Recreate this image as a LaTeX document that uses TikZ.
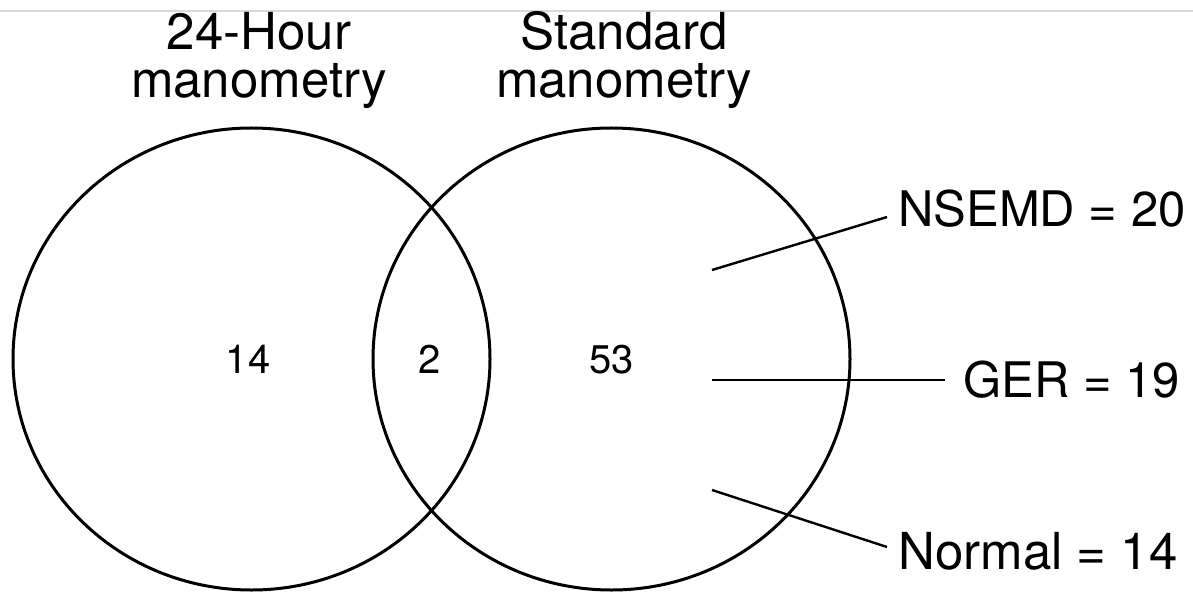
\documentclass[tikz,border=0pt]{standalone}
\usepackage{fontspec}
\setmainfont{TeX Gyre Heros}
\usetikzlibrary{calc}
\definecolor{rulegray}{HTML}{D9D9D9}
\tikzset{
  venn/.style={draw=black, line width=1.5pt},
  leader/.style={draw=black, line width=1.2pt},
  title/.style={inner sep=0pt, anchor=base, font=\fontsize{25.5pt}{28pt}\selectfont},
  count/.style={inner sep=0pt, anchor=base, font=\fontsize{20pt}{22pt}\selectfont},
  lab/.style={inner sep=0pt, anchor=base west, font=\fontsize{24.5pt}{28pt}\selectfont}
}
\begin{document}
\begin{tikzpicture}[x=0.5pt, y=-0.5pt]
\useasboundingbox (0,0) rectangle (1193,593);
\draw[rulegray, line width=1pt] (0,11) -- (1193,11);
% circles
\coordinate (cl) at (251.5,359);
\coordinate (cr) at (611.5,359);
\draw[venn] (cl) ellipse [x radius=238.5, y radius=231];
\draw[venn] (cr) ellipse [x radius=238.5, y radius=231];
% titles
\node[title] (t1a) at (259,50) {24-Hour};
\node[title] (t1b) at (259,98) {manometry};
\node[title] (t2a) at (624,50) {Standard};
\node[title] (t2b) at (624,98) {manometry};
% counts
\node[count] (n14) at (248,373) {14};
\node[count] (n2) at (430,373) {2};
\node[count] (n53) at (611.5,373) {53};
% labels
\node[lab] (lnsemd) at (898,227) {NSEMD = 20};
\node[lab] (lger) at (963,397) {GER = 19};
\node[lab, font=\fontsize{25.5pt}{28pt}\selectfont] (lnorm) at (898,569) {Normal = 14};
% leader lines
\coordinate (s1) at (712,270);
\coordinate (s2) at (712,380);
\coordinate (s3) at (712,490);
\draw[leader] (s1) -- ($(lnsemd.base west)+(-11,-10)$);
\draw[leader] (s2) -- ($(lger.base west)+(-18,-17)$);
\draw[leader] (s3) -- ($(lnorm.base west)+(-11,-22)$);
\end{tikzpicture}
\end{document}
